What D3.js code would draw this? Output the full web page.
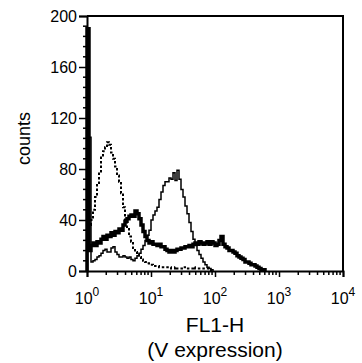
<!DOCTYPE html>
<html>
<head>
<meta charset="utf-8">
<script src="https://cdn.jsdelivr.net/npm/d3@7"></script>
<style>
  body { margin: 0; background: #fff; }
  svg text { font-family: "Liberation Sans", Arial, sans-serif; fill: #000; }
</style>
</head>
<body>
<svg width="362" height="363"></svg>
<script>
// histogram channels: 32 bins per decade, starting at 10^0
let binsPerDecade = 32;

// dotted (control) histogram
let dotted = [30, 36, 40, 48, 58, 69, 78, 89, 94, 97, 101, 99, 93, 88, 82, 75,
  70, 61, 50, 40, 33, 27, 23, 18, 15, 13, 11, 9, 8, 7, 6, 5,
  5, 4, 4, 4, 3, 3, 3, 3, 3, 3, 2, 2, 3, 2, 2, 2,
  3, 2, 2, 2, 2, 3, 2, 2, 2, 2, 2, 2, 2, 1, 0];

// thin solid histogram
let thin = [105, 105, 7, 8, 9, 11, 12, 14, 16, 17, 15, 15, 18, 19, 15, 13,
  11, 11, 12, 11, 10, 11, 9, 8, 10, 12, 14, 17, 20, 24, 28, 32,
  40, 44, 47, 50, 56, 62, 67, 70, 70, 73, 72, 77, 71, 79, 72, 64,
  58, 51, 45, 38, 31, 25, 20, 16, 13, 10, 7, 5, 3, 2, 1, 0];

// thick solid histogram
let thick = [190, 16, 20, 22, 20, 23, 22, 25, 27, 25, 28, 27, 30, 28, 31, 30,
  33, 32, 36, 39, 41, 43, 44, 43, 47, 45, 41, 36, 31, 27, 24, 22,
  23, 21, 21, 20, 21, 19, 19, 17, 16, 15, 16, 15, 16, 17, 17, 18,
  18, 19, 19, 20, 19, 21, 22, 21, 23, 22, 21, 22, 23, 21, 23, 22,
  20, 21, 24, 27, 21, 19, 18, 16, 16, 15, 14, 12, 11, 10, 9, 7,
  7, 6, 5, 5, 4, 3, 2, 1, 1, 0];

let yTicks = [0, 40, 80, 120, 160, 200];
let xTicks = [1, 10, 100, 1000, 10000];
let xTickExp = ["0", "1", "2", "3", "4"];

let margin = {top: 16, right: 19, bottom: 92, left: 87},
    width = 362 - margin.left - margin.right,
    height = 363 - margin.top - margin.bottom;

let svg = d3.select("svg")
  .append("g")
  .attr("transform", "translate(" + margin.left + "," + margin.top + ")");

let x = d3.scaleLog()
  .domain([1, 10000])
  .range([0, width]);

let y = d3.scaleLinear()
  .domain([0, 200])
  .range([height, 0]);

let line = d3.line()
  .curve(d3.curveStepAfter)
  .x(function(d) { return x(Math.pow(10, d.bin / binsPerDecade)); })
  .y(function(d) { return y(Math.min(d.count, 200)); });

// outline starts on the baseline, then steps through the channels
function outline(counts) {
  return [{bin: 0, count: 0}].concat(counts.map(function(c, i) {
    return {bin: i, count: c};
  }));
}

// frame (top + right)
svg.append("path")
  .attr("d", "M0,0H" + width + "V" + height)
  .attr("fill", "none")
  .attr("stroke", "#000")
  .attr("stroke-width", 2);

// y axis
let yAxis = svg.append("g")
  .call(d3.axisLeft(y).tickValues(yTicks).tickSize(8).tickPadding(2));
yAxis.select(".domain").attr("stroke-width", 2);
yAxis.selectAll(".tick line").attr("stroke-width", 1.5);
yAxis.selectAll("text").attr("font-size", 16).attr("font-family", null).attr("dy", "0.36em");

// minor y ticks
svg.append("g")
  .selectAll("line")
  .data(d3.range(0, 201, 8).filter(function(v) { return yTicks.indexOf(v) < 0; }))
  .join("line")
  .attr("x1", -4).attr("x2", 0)
  .attr("y1", function(d) { return y(d); })
  .attr("y2", function(d) { return y(d); })
  .attr("stroke", "#000")
  .attr("stroke-width", 1.5);

// x axis
let xAxis = svg.append("g")
  .attr("transform", "translate(0," + height + ")")
  .call(d3.axisBottom(x).tickValues(xTicks).tickSize(6).tickFormat(""));
xAxis.select(".domain").attr("stroke-width", 2);
xAxis.selectAll(".tick line").attr("stroke-width", 1.5);

// minor x ticks (2..9 in each decade)
let minor = x.ticks().filter(function(v) { return xTicks.indexOf(v) < 0; });
xAxis.append("g")
  .selectAll("line")
  .data(minor)
  .join("line")
  .attr("x1", function(d) { return x(d); })
  .attr("x2", function(d) { return x(d); })
  .attr("y1", 0).attr("y2", 4)
  .attr("stroke", "#000")
  .attr("stroke-width", 1.5);

// decade labels 10^n
let xl = svg.append("g")
  .selectAll("text")
  .data(xTicks)
  .join("text")
  .attr("x", function(d) { return x(d); })
  .attr("y", height + 33)
  .attr("text-anchor", "middle")
  .attr("font-size", 16);
xl.append("tspan").text("10");
xl.append("tspan")
  .attr("dy", -8)
  .attr("font-size", 12)
  .text(function(d, i) { return xTickExp[i]; });

// histograms
svg.append("path")
  .datum(outline(dotted))
  .attr("d", line)
  .attr("fill", "none")
  .attr("stroke", "#000")
  .attr("stroke-width", 2)
  .attr("stroke-dasharray", "2.5,2");

svg.append("path")
  .datum(outline(thin))
  .attr("d", line)
  .attr("fill", "none")
  .attr("stroke", "#000")
  .attr("stroke-width", 1.5);

svg.append("path")
  .datum(outline(thick))
  .attr("d", line)
  .attr("fill", "none")
  .attr("stroke", "#000")
  .attr("stroke-width", 3.5)
  .attr("stroke-linejoin", "miter");

// axis titles
svg.append("text")
  .attr("transform", "translate(" + (-57) + "," + (height / 2 - 5) + ") rotate(-90)")
  .attr("text-anchor", "middle")
  .attr("font-size", 18)
  .text("counts");

svg.append("text")
  .attr("x", x(100))
  .attr("y", height + 61)
  .attr("text-anchor", "middle")
  .attr("font-size", 21)
  .text("FL1-H");

svg.append("text")
  .attr("x", x(100))
  .attr("y", height + 86)
  .attr("text-anchor", "middle")
  .attr("font-size", 21)
  .text("(V expression)");
</script>
</body>
</html>
